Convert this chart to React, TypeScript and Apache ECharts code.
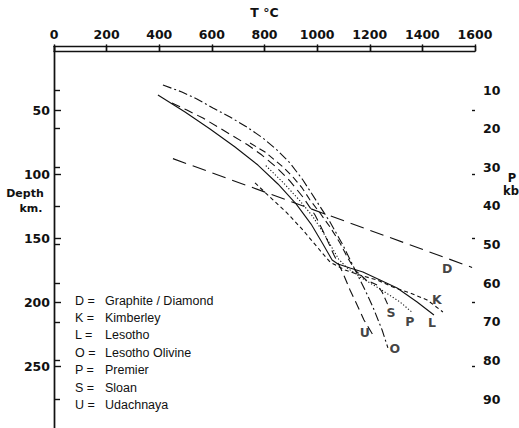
import React, { useEffect, useRef } from "react";
import * as echarts from "echarts";

// ---- tick labels ----
const tempTicks = [0, 200, 400, 600, 800, 1000, 1200, 1400, 1600];
const depthTicks = [50, 100, 150, 200, 250];
const pressureTicks = [10, 20, 30, 40, 50, 60, 70, 80, 90];

// ---- curves: [T °C, depth km] ----
const graphiteDiamond = [[452, 88], [1589, 173]];
const kimberley = [
  [764, 107], [821, 118], [886, 130.5], [946, 143.8], [1000, 157], [1049, 168.8],
  [1106, 175], [1174, 179.7], [1228, 182.8], [1288, 188.3], [1353, 193], [1418, 198.4], [1478, 207.8],
];
const lesotho = [
  [395, 38.3], [498, 51.6], [593, 64.8], [688, 78.9], [775, 93], [851, 107.8], [920, 123.4],
  [977, 139.1], [1022, 154.7], [1057, 167.2], [1079, 170.3], [1125, 173.4], [1174, 176.6],
  [1239, 182.8], [1304, 189.1], [1380, 200], [1444, 210.2],
];
const lesothoOlivine = [
  [414, 30.5], [486, 35.9], [543, 41.4], [604, 48.4], [669, 55.5], [733, 63.3], [794, 71.9],
  [848, 81.3], [897, 91.4], [946, 104.7], [1000, 121.9], [1049, 137.5], [1098, 155.5],
  [1152, 178.1], [1182, 190.6], [1212, 203.9], [1247, 221.9], [1269, 235.9],
];
const premier = [
  [805, 93.5], [870, 106.5], [932, 120.3], [982, 132.8], [1022, 145.3], [1055, 157], [1082, 166.5],
  [1112, 173], [1163, 180.5], [1239, 189.8], [1315, 200], [1364, 208.6],
];
const sloan = [
  [745, 75.8], [802, 82.8], [870, 94.5], [908, 102.3], [943, 110.9], [973, 120.3], [1011, 130.5],
  [1049, 141.4], [1087, 153.9], [1114, 164.8], [1144, 175], [1186, 182.8], [1228, 186.7],
  [1247, 192.2], [1269, 202.3],
];
const udachnaya = [
  [448, 44.5], [505, 50], [566, 56.3], [623, 63.3], [680, 70.3], [737, 77.3], [790, 85.2],
  [844, 94.5], [897, 105.5], [946, 118], [992, 132], [1030, 147.7], [1064, 163.3], [1098, 177.3],
  [1125, 190.6], [1152, 202.3], [1178, 214], [1212, 225.8],
];

const seriesCodes = ["D", "K", "L", "O", "P", "S", "U"];
const legendNames = [
  "Graphite / Diamond",
  "Kimberley",
  "Lesotho",
  "Lesotho Olivine",
  "Premier",
  "Sloan",
  "Udachnaya",
];
const seriesData = [graphiteDiamond, kimberley, lesotho, lesothoOlivine, premier, sloan, udachnaya];

// ---- styles ----
const dashTypes: any[] = [[14, 7], [4, 3], "solid", [9, 3, 2, 3], [1.2, 2], [7, 4], [9, 5]];
const labelOffsets = [[-25, 1], [-6, -12], [-2, 7], [7, 1], [-3, 8], [3, 8], [-8, -3]];
const INK = "#111";
const NUM_FONT = "DejaVu Sans";

export default function App() {
  const ref = useRef<HTMLDivElement>(null);
  useEffect(() => {
    if (!ref.current) return;
    const chart = echarts.init(ref.current, null, { renderer: "svg" });

    const lineSeries = seriesData.map((d, i) => ({
      type: "line",
      name: seriesCodes[i],
      data: d,
      xAxisIndex: 0,
      yAxisIndex: 0,
      showSymbol: false,
      symbol: "none",
      smooth: false,
      lineStyle: { color: INK, width: 1.1, type: dashTypes[i] },
      z: 3,
    }));

    const endLabels = {
      type: "scatter",
      xAxisIndex: 0,
      yAxisIndex: 0,
      symbolSize: 1,
      itemStyle: { color: "transparent" },
      silent: true,
      data: seriesData.map((d, i) => ({
        value: d[d.length - 1],
        name: seriesCodes[i],
        label: {
          show: true,
          position: "inside",
          offset: labelOffsets[i],
          formatter: seriesCodes[i],
          color: INK,
          fontFamily: NUM_FONT,
          fontWeight: "bold",
          fontSize: 12.5,
        },
      })),
      z: 5,
    };

    const legendGraphics: any[] = [];
    legendNames.forEach((n, i) => {
      const y = 300.5 + i * 17.4;
      legendGraphics.push({
        type: "text",
        x: 75,
        y,
        style: {
          text: seriesCodes[i] + " =",
          font: "500 12.5px 'Liberation Sans'",
          fill: INK,
          align: "left",
          verticalAlign: "middle",
        },
      });
      legendGraphics.push({
        type: "text",
        x: 105,
        y,
        style: {
          text: n,
          font: "500 12.5px 'Liberation Sans'",
          fill: INK,
          align: "left",
          verticalAlign: "middle",
        },
      });
    });

    const axisLineStyle = { color: INK, width: 1.4 };
    const labelStyle = {
      color: INK,
      fontFamily: NUM_FONT,
      fontWeight: "bold",
      fontSize: 12.5,
    };
    const plain = (v: number) => String(v);

    chart.setOption({
      animation: false,
      backgroundColor: "#fff",
      textStyle: { fontFamily: NUM_FONT },
      grid: {
        left: 54,
        top: 46,
        width: 421,
        height: 384,
        containLabel: false,
        outerBoundsMode: "none",
      },
      xAxis: [
        {
          type: "value",
          position: "top",
          min: 0,
          max: 1600,
          interval: 200,
          name: "T °C",
          nameLocation: "middle",
          nameGap: 27,
          nameTextStyle: { ...labelStyle },
          axisLine: { show: true, lineStyle: axisLineStyle },
          axisTick: { show: true, inside: true, length: 5, lineStyle: axisLineStyle, customValues: tempTicks },
          axisLabel: { ...labelStyle, margin: 5, customValues: tempTicks, formatter: plain },
          splitLine: { show: false },
        },
        {
          type: "value",
          position: "bottom",
          min: 0,
          max: 1600,
          interval: 200,
          axisLine: { show: true, lineStyle: axisLineStyle },
          axisTick: { show: true, inside: true, length: 7, lineStyle: axisLineStyle, customValues: tempTicks },
          axisLabel: { show: false },
          splitLine: { show: false },
        },
      ],
      yAxis: [
        {
          type: "value",
          position: "left",
          inverse: true,
          min: 0,
          max: 300,
          interval: 50,
          axisLine: { show: true, lineStyle: axisLineStyle },
          axisTick: { show: true, inside: true, length: 7, lineStyle: axisLineStyle, customValues: depthTicks },
          axisLabel: { ...labelStyle, margin: 4, customValues: depthTicks, formatter: plain },
          splitLine: { show: false },
        },
        {
          type: "value",
          position: "right",
          inverse: true,
          min: -1.4,
          max: 98,
          axisLine: { show: true, lineStyle: axisLineStyle },
          axisTick: { show: true, inside: false, length: 6, lineStyle: axisLineStyle, customValues: pressureTicks },
          axisLabel: { ...labelStyle, margin: 8, customValues: pressureTicks, formatter: plain },
          splitLine: { show: false },
        },
        {
          type: "value",
          position: "right",
          inverse: true,
          min: 0,
          max: 300,
          interval: 50,
          axisLine: { show: false },
          axisTick: { show: true, inside: true, length: 3, lineStyle: axisLineStyle, customValues: depthTicks },
          axisLabel: { show: false },
          splitLine: { show: false },
        },
      ],
      graphic: [
        {
          type: "text",
          x: 25,
          y: 193,
          style: { text: "Depth", font: "bold 11px 'DejaVu Sans'", fill: INK, align: "center", verticalAlign: "middle" },
        },
        {
          type: "text",
          x: 31,
          y: 208,
          style: { text: "km.", font: "bold 11px 'DejaVu Sans'", fill: INK, align: "center", verticalAlign: "middle" },
        },
        {
          type: "text",
          x: 512,
          y: 178,
          style: { text: "P", font: "bold 11.5px 'DejaVu Sans'", fill: INK, align: "center", verticalAlign: "middle" },
        },
        {
          type: "text",
          x: 511,
          y: 191,
          style: { text: "kb", font: "bold 11.5px 'DejaVu Sans'", fill: INK, align: "center", verticalAlign: "middle" },
        },
        ...legendGraphics,
      ],
      series: [...lineSeries, endLabels],
    });

    return () => chart.dispose();
  }, []);

  return (
    <div
      ref={ref}
      style={{ position: "fixed", left: 0, top: 0, width: 519, height: 428, background: "#fff" }}
    />
  );
}
